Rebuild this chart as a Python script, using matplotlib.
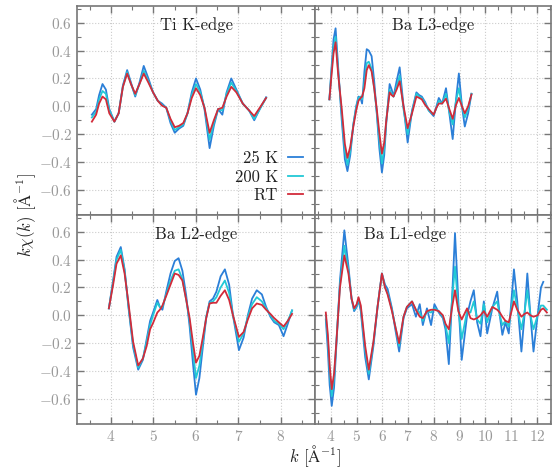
#!/usr/bin/env python3
""" k-weighted EXAFS oscillations for the four absorption edges """

import numpy as np
import matplotlib
matplotlib.use("Agg")
import matplotlib.pyplot as plt
from matplotlib.ticker import MultipleLocator

# Ti K-edge
ti_k = [3.55, 3.65, 3.72, 3.80, 3.88, 3.96, 4.08, 4.18, 4.28, 4.38, 4.47, 4.57,
        4.67, 4.77, 4.88, 4.99, 5.10, 5.20, 5.30, 5.40, 5.50, 5.60, 5.70, 5.80,
        5.90, 6.00, 6.10, 6.20, 6.32, 6.42, 6.52, 6.62, 6.72, 6.83, 6.95, 7.10,
        7.25, 7.37, 7.50, 7.65]
ti_25k = [-0.06, -0.02, 0.08, 0.16, 0.12, -0.02, -0.11, -0.05, 0.15, 0.26, 0.17, 0.07,
          0.17, 0.29, 0.20, 0.10, 0.04, 0.02, -0.01, -0.12, -0.19, -0.16, -0.14, -0.05,
          0.10, 0.20, 0.12, -0.02, -0.30, -0.14, -0.02, -0.06, 0.10, 0.20, 0.12, 0.02,
          -0.03, -0.10, -0.02, 0.065]
ti_200k = [-0.08, -0.04, 0.05, 0.11, 0.09, -0.03, -0.11, -0.05, 0.14, 0.245, 0.16, 0.08,
           0.16, 0.255, 0.18, 0.10, 0.04, 0.01, -0.01, -0.10, -0.17, -0.15, -0.13, -0.05,
           0.08, 0.16, 0.10, -0.01, -0.24, -0.12, -0.02, -0.03, 0.09, 0.17, 0.11, 0.02,
           -0.03, -0.09, -0.02, 0.06]
ti_rt = [-0.11, -0.06, 0.02, 0.07, 0.05, -0.05, -0.11, -0.05, 0.14, 0.235, 0.16, 0.09,
         0.16, 0.235, 0.17, 0.10, 0.04, 0.005, -0.01, -0.09, -0.15, -0.14, -0.12, -0.05,
         0.06, 0.13, 0.08, -0.01, -0.19, -0.10, -0.02, -0.01, 0.07, 0.14, 0.10, 0.02,
         -0.03, -0.07, -0.01, 0.06]

# Ba L3-edge
l3_k = [3.94, 4.02, 4.10, 4.18, 4.28, 4.42, 4.54, 4.64, 4.75, 4.87, 4.98, 5.07,
        5.15, 5.21, 5.30, 5.39, 5.47, 5.58, 5.68, 5.78, 5.88, 5.98, 6.07, 6.15,
        6.28, 6.36, 6.43, 6.55, 6.67, 6.82, 6.98, 7.15, 7.32, 7.43, 7.53, 7.66,
        7.80, 7.99, 8.10, 8.19, 8.32, 8.47, 8.60, 8.73, 8.86, 8.97, 9.09, 9.20,
        9.33, 9.46]
l3_25k = [0.05, 0.27, 0.48, 0.56, 0.28, -0.10, -0.38, -0.465, -0.35, -0.13, 0.00, 0.07,
          0.06, 0.02, 0.25, 0.41, 0.40, 0.36, 0.18, -0.05, -0.30, -0.475, -0.35, -0.12,
          0.16, 0.12, 0.07, 0.18, 0.28, 0.00, -0.26, -0.03, 0.10, 0.08, 0.07, 0.03,
          -0.03, -0.07, 0.00, 0.06, 0.02, 0.13, -0.05, -0.235, 0.05, 0.236, 0.00, -0.145,
          -0.05, 0.09]
l3_200k = [0.05, 0.25, 0.42, 0.50, 0.25, -0.06, -0.32, -0.42, -0.32, -0.13, -0.01, 0.06,
           0.07, 0.05, 0.17, 0.31, 0.32, 0.27, 0.13, -0.04, -0.24, -0.41, -0.30, -0.10,
           0.12, 0.09, 0.07, 0.14, 0.22, -0.02, -0.20, -0.04, 0.09, 0.07, 0.06, 0.02,
           -0.03, -0.06, -0.01, 0.04, 0.02, 0.09, -0.04, -0.13, 0.04, 0.13, 0.00, -0.08,
           -0.02, 0.09]
l3_rt = [0.05, 0.22, 0.38, 0.46, 0.23, -0.02, -0.27, -0.37, -0.29, -0.145, -0.03, 0.04,
         0.06, 0.07, 0.13, 0.26, 0.295, 0.25, 0.13, -0.02, -0.19, -0.34, -0.26, -0.10,
         0.10, 0.08, 0.07, 0.12, 0.18, 0.00, -0.157, -0.05, 0.07, 0.06, 0.05, 0.01,
         -0.02, -0.06, -0.01, 0.02, 0.02, 0.055, -0.02, -0.09, 0.01, 0.06, 0.00, -0.05,
         0.00, 0.085]

# Ba L2-edge
l2_k = [3.95, 4.05, 4.13, 4.23, 4.32, 4.41, 4.52, 4.64, 4.75, 4.84, 4.92, 4.99,
        5.09, 5.15, 5.21, 5.30, 5.40, 5.50, 5.59, 5.68, 5.77, 5.85, 5.93, 6.00,
        6.08, 6.16, 6.24, 6.32, 6.40, 6.48, 6.58, 6.68, 6.78, 6.87, 7.01, 7.12,
        7.22, 7.32, 7.43, 7.55, 7.65, 7.75, 7.84, 7.95, 8.06, 8.16, 8.26]
l2_25k = [0.05, 0.25, 0.42, 0.49, 0.33, 0.06, -0.23, -0.39, -0.32, -0.17, -0.04, 0.02,
          0.11, 0.06, 0.04, 0.17, 0.30, 0.39, 0.41, 0.32, 0.14, -0.08, -0.35, -0.57,
          -0.45, -0.23, -0.02, 0.10, 0.12, 0.17, 0.28, 0.33, 0.22, 0.00, -0.25, -0.16,
          0.00, 0.12, 0.18, 0.15, 0.06, -0.01, -0.05, -0.07, -0.15, -0.06, 0.035]
l2_200k = [0.05, 0.24, 0.40, 0.47, 0.32, 0.07, -0.21, -0.375, -0.31, -0.19, -0.07, 0.00,
           0.09, 0.06, 0.06, 0.15, 0.25, 0.32, 0.33, 0.26, 0.11, -0.04, -0.26, -0.45,
           -0.36, -0.19, -0.01, 0.09, 0.10, 0.13, 0.20, 0.25, 0.16, 0.00, -0.19, -0.13,
           -0.01, 0.08, 0.13, 0.10, 0.05, 0.00, -0.04, -0.06, -0.10, -0.04, 0.035]
l2_rt = [0.05, 0.22, 0.37, 0.43, 0.30, 0.09, -0.19, -0.36, -0.31, -0.22, -0.10, -0.055,
         0.02, 0.04, 0.07, 0.14, 0.22, 0.30, 0.29, 0.25, 0.11, -0.02, -0.20, -0.34,
         -0.29, -0.16, -0.02, 0.085, 0.09, 0.09, 0.14, 0.18, 0.11, 0.00, -0.155, -0.12,
         -0.03, 0.05, 0.085, 0.075, 0.04, 0.01, -0.02, -0.05, -0.08, -0.04, 0.01]

# Ba L1-edge
l1_k = [3.80, 3.88, 3.95, 4.03, 4.12, 4.20, 4.35, 4.52, 4.68, 4.80, 4.90, 5.00,
        5.07, 5.16, 5.33, 5.47, 5.65, 5.81, 5.98, 6.10, 6.20, 6.37, 6.50, 6.65,
        6.82, 6.95, 7.15, 7.30, 7.45, 7.57, 7.73, 7.89, 8.02, 8.19, 8.35, 8.45,
        8.58, 8.70, 8.82, 8.95, 9.08, 9.29, 9.42, 9.55, 9.68, 9.81, 9.94, 10.07,
        10.27, 10.46, 10.56, 10.66, 10.78, 10.91, 11.11, 11.24, 11.40, 11.52, 11.63, 11.75,
        11.87, 12.03, 12.16, 12.25, 12.39]
l1_25k = [-0.03, -0.25, -0.50, -0.65, -0.52, -0.25, 0.25, 0.61, 0.35, 0.12, 0.03, 0.06,
          0.11, 0.03, -0.30, -0.46, -0.22, 0.06, 0.30, 0.22, 0.19, 0.05, -0.10, -0.26,
          -0.02, 0.05, 0.08, -0.01, 0.08, -0.07, 0.05, -0.07, 0.08, 0.02, -0.02, -0.10,
          -0.35, 0.10, 0.59, 0.10, -0.32, 0.00, 0.10, 0.18, -0.05, -0.15, 0.10, -0.13,
          0.05, 0.17, 0.00, -0.14, -0.05, -0.13, 0.33, 0.10, -0.26, 0.00, 0.30, 0.00,
          -0.26, 0.00, 0.20, 0.24, np.nan]
l1_200k = [0.00, -0.18, -0.40, -0.58, -0.45, -0.22, 0.22, 0.50, 0.32, 0.12, 0.04, 0.07,
           0.12, 0.05, -0.25, -0.42, -0.20, 0.06, 0.30, 0.20, 0.16, 0.04, -0.08, -0.22,
           -0.01, 0.06, 0.10, 0.04, 0.02, -0.04, 0.03, 0.02, 0.05, 0.03, -0.01, -0.07,
           -0.20, 0.10, 0.35, 0.05, -0.17, 0.03, 0.02, 0.10, -0.03, -0.06, 0.08, -0.05,
           0.06, 0.10, 0.00, -0.07, -0.04, -0.08, 0.18, 0.05, -0.10, 0.02, 0.18, 0.00,
           -0.10, 0.00, 0.07, 0.07, 0.04]
l1_rt = [0.02, -0.14, -0.36, -0.53, -0.42, -0.22, 0.20, 0.43, 0.30, 0.12, 0.05, 0.08,
         0.13, 0.07, -0.22, -0.39, -0.19, 0.06, 0.30, 0.20, 0.15, 0.03, -0.08, -0.20,
         -0.01, 0.06, 0.10, 0.04, -0.01, -0.02, 0.03, 0.04, 0.04, 0.03, 0.00, -0.06,
         -0.10, 0.05, 0.18, 0.03, -0.03, 0.05, -0.02, -0.03, -0.02, 0.00, 0.03, -0.01,
         0.06, 0.04, 0.02, -0.01, -0.04, -0.05, 0.10, 0.04, -0.01, 0.01, 0.02, 0.00,
         -0.01, 0.00, 0.04, 0.05, 0.02]

edges = ["Ti K-edge", "Ba L3-edge", "Ba L2-edge", "Ba L1-edge"]
labels = ["25 K", "200 K", "RT"]
colors = ["#2b7fd8", "#22c8d6", "#d22b3a"]

panels = [
    (ti_k, [ti_25k, ti_200k, ti_rt]),
    (l3_k, [l3_25k, l3_200k, l3_rt]),
    (l2_k, [l2_25k, l2_200k, l2_rt]),
    (l1_k, [l1_25k, l1_200k, l1_rt]),
]

plt.rcParams["font.family"] = ["cmr10", "DejaVu Serif"]
plt.rcParams["mathtext.fontset"] = "cm"
plt.rcParams["axes.unicode_minus"] = False
plt.rcParams["axes.formatter.use_mathtext"] = True

fig = plt.figure(figsize=(5.55, 4.69), dpi=100)

x0, xm, x1 = 77 / 555, 315 / 555, 551 / 555
y1, ym, y0 = 1 - 6 / 469, 1 - 215 / 469, 1 - 424 / 469
rects = [
    [x0, ym, xm - x0, y1 - ym],
    [xm, ym, x1 - xm, y1 - ym],
    [x0, y0, xm - x0, ym - y0],
    [xm, y0, x1 - xm, ym - y0],
]
title_x = [0.5, 0.5, 0.5, 0.38]

spine_col = "#777777"
tick_col = "#999999"

axes = []
for i, (rect, (k, series)) in enumerate(zip(rects, panels)):
    ax = fig.add_axes(rect)
    axes.append(ax)
    for vals, lab, col in zip(series, labels, colors):
        ax.plot(k, vals, color=col, lw=1.3, label=lab)

    ax.set_ylim(-0.78, 0.72)
    if i % 2 == 0:
        ax.set_xlim(3.2, 8.8)
    else:
        ax.set_xlim(3.38, 12.55)
    ax.xaxis.set_major_locator(MultipleLocator(1))
    ax.xaxis.set_minor_locator(MultipleLocator(0.5))
    ax.yaxis.set_major_locator(MultipleLocator(0.2))
    ax.yaxis.set_minor_locator(MultipleLocator(0.1))
    ax.grid(True, which="major", color="#cccccc", ls=":", lw=0.8)
    ax.tick_params(which="both", direction="in", top=True, right=True,
                   color=spine_col, labelcolor=tick_col, labelsize=11)
    ax.tick_params(which="major", length=5, width=1)
    ax.tick_params(which="minor", length=3, width=0.8)
    for sp in ax.spines.values():
        sp.set_color(spine_col)
        sp.set_linewidth(1.2)
    if i < 2:
        ax.tick_params(labelbottom=False)
    if i % 2 == 1:
        ax.tick_params(labelleft=False)

    ax.text(title_x[i], 0.91, edges[i], transform=ax.transAxes,
            ha="center", va="center", fontsize=12, color="#222222")

axes[0].legend(loc="lower right", frameon=False, markerfirst=False,
               handlelength=0.9, handletextpad=0.6, labelspacing=0.2,
               fontsize=12, borderaxespad=0.3, labelcolor="#222222")

fig.text(0.045, ym, r"$k\chi(k)$ [$\mathrm{\AA}^{-1}$]", rotation=90,
         ha="center", va="center", fontsize=12, color="#222222")
fig.text(xm, 0.028, r"$k$ [$\mathrm{\AA}^{-1}$]",
         ha="center", va="center", fontsize=12, color="#222222")

plt.savefig("out.png", dpi=100)
